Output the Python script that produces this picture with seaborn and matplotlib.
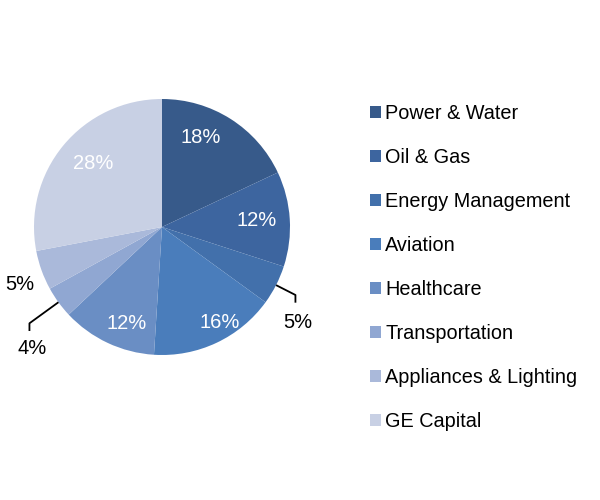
import numpy as np
import matplotlib
matplotlib.use("Agg")
import matplotlib.pyplot as plt
import seaborn as sns

segments = ["Power & Water", "Oil & Gas", "Energy Management", "Aviation",
            "Healthcare", "Transportation", "Appliances & Lighting", "GE Capital"]
shares = [18, 12, 5, 16, 12, 4, 5, 28]
pct_labels = ["18%", "12%", "5%", "16%", "12%", "4%", "5%", "28%"]

colors = ["#375A8A", "#3D659F", "#4270AB", "#4A7DBB",
          "#6A8EC4", "#90A7D2", "#AAB9DA", "#C8D0E4"]

# label placement per slice: (distance in radii, angle shift deg, inside?, leader elbow distance)
label_pos = [(0.76, 9, True, None), (0.74, 0.6, True, None), (1.30, -8, False, 1.17),
             (0.875, 6, True, None), (0.80, 5, True, None), (1.39, 7, False, 1.28),
             (1.20, 2, False, None), (0.735, -3, True, None)]

sns.set_theme(style="white")
plt.rcParams['font.family'] = ['Liberation Sans', 'DejaVu Sans']
plt.rcParams['text.color'] = 'black'

fig = plt.figure(figsize=(6, 5), dpi=100)
ax = fig.add_axes([2/600, 113/500, 320/600, 320/500])

wedges, _ = ax.pie(shares, colors=colors, startangle=90, counterclock=False,
                   radius=1.0, wedgeprops=dict(linewidth=0))

for w, txt, (d, shift, inside, elbow) in zip(wedges, pct_labels, label_pos):
    mid = np.deg2rad((w.theta1 + w.theta2) / 2)
    ang = mid + np.deg2rad(shift)
    x, y = d * np.cos(ang), d * np.sin(ang)
    ax.text(x, y, txt, ha="center", va="center", fontsize=14.5,
            color="white" if inside else "black")
    if elbow is not None:
        ex, ey = elbow * np.cos(mid), elbow * np.sin(mid)
        ax.plot([np.cos(mid), ex, ex], [np.sin(mid), ey, ey - 0.06],
                color="black", lw=1.3, solid_capstyle="butt")

ax.set_xlim(-1.25, 1.25)
ax.set_ylim(-1.25, 1.25)
ax.set_aspect("equal")
ax.axis("off")

fig.legend(wedges, segments, loc="upper left", bbox_to_anchor=(370/600, 1 - 104/500),
           frameon=False, fontsize=14.3, handlelength=0.56, handleheight=0.56,
           handletextpad=0.2, labelspacing=1.26, borderpad=0, borderaxespad=0,
           labelcolor="black")

fig.savefig("out.png", dpi=100, facecolor="white")
